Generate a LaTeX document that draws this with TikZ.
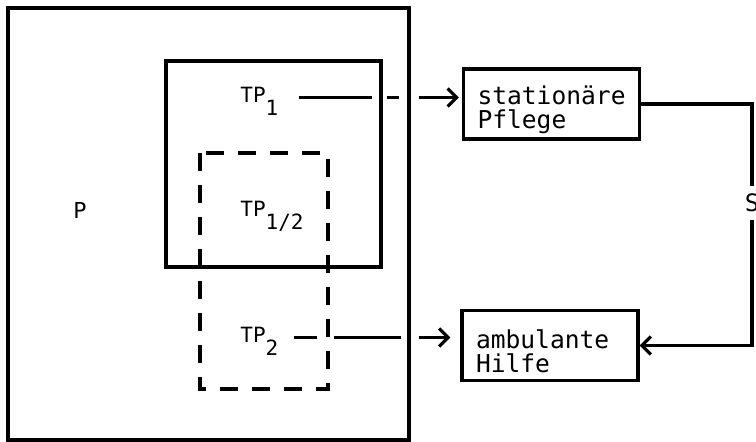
\documentclass[tikz,border=0pt]{standalone}
\usepackage{fontspec}
\usepackage{tikz}
\usetikzlibrary{arrows.meta}
\setmainfont{DejaVu Sans Mono}
\newcommand{\tpsub}[1]{TP\raisebox{-6.5pt}{#1}}
\newcommand{\boxstrut}{\rule{0pt}{15pt}}
\tikzset{
    region/.style = {draw, line width=1.6pt},
    overlap-region/.style = {draw, line width=1.6pt, dash pattern=on 9pt off 7pt},
    part-label/.style = {inner sep=0pt, anchor=base west, font=\fontsize{10.5}{10.5}\selectfont},
    care-box/.style = {draw, line width=1.6pt, text width=74pt, align=left, inner xsep=7pt, inner ysep=1pt, minimum height=35pt, font=\fontsize{12.3}{12}\selectfont},
    flow-arrow/.style = {-{Straight Barb[length=4.5pt, width=9pt]}, line width=1.6pt},
}
\begin{document}
\begin{tikzpicture}[x=0.5pt, y=-0.5pt]
\useasboundingbox (0,0) rectangle (756,442);
% population and sub-populations
\draw[region] (8,8) rectangle (409,440);
\draw[region] (166,61) rectangle (381,267);
\draw[overlap-region] (200,153) rectangle (328,389);
\node[font=\fontsize{11}{11}\selectfont] (P) at (80,210) {P};
\node[part-label] (tp1) at (240,103) {\tpsub{1}};
\node[part-label] (tp12) at (240,217) {\tpsub{1/2}};
\node[part-label] (tp2) at (240,343) {\tpsub{2}};
% kinds of care
\node[care-box] (stat) at (551.5,104) {\boxstrut stationäre\\Pflege};
\node[care-box] (amb) at (550,345.5) {\boxstrut ambulante\\Hilfe};
\node[font=\fontsize{12}{12}\selectfont, inner sep=4pt] (S) at (752,203) {S};
% flows
\draw[flow-arrow, dash pattern=on 36.5pt off 7.5pt on 6pt off 10pt on 100pt, shorten <=10pt, shorten >=1.5pt] (tp1.mid east) -- (tp1.mid east -| stat.west);
\draw[flow-arrow, dash pattern=on 11.5pt off 8.5pt on 33.5pt off 9pt on 100pt, shorten <=7.5pt, shorten >=5pt] (tp2.mid east) -- (tp2.mid east -| amb.west);
\draw[line width=1.6pt] (stat.east) -| (S.north);
\draw[flow-arrow] (S.south) |- (amb.east);
\end{tikzpicture}
\end{document}
